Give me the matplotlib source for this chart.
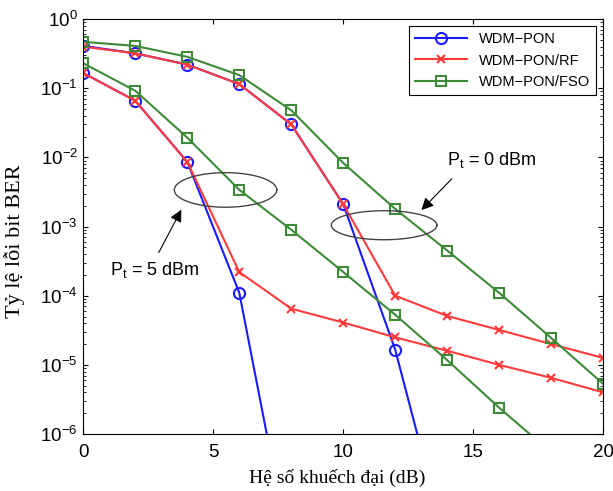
import numpy as np
import matplotlib
matplotlib.use("Agg")
import matplotlib.pyplot as plt

plt.rcParams['font.family'] = ['Liberation Sans', 'DejaVu Sans']
plt.rcParams['mathtext.default'] = 'regular'

# gain (dB)
gain = [0, 2, 4, 6, 8, 10, 12, 14, 16, 18, 20]

# Pt = 0 dBm curves
pon_0 = [0.41, 0.32, 0.22, 0.115, 0.030, 0.0021, 1.65e-5, 2.2e-8]
rf_0 = [0.40, 0.32, 0.22, 0.115, 0.030, 0.0021, 1.0e-4, 5.1e-5, 3.2e-5, 2.0e-5, 1.26e-5]
fso_0 = [0.47, 0.41, 0.285, 0.155, 0.048, 0.0083, 1.8e-3, 4.5e-4, 1.1e-4, 2.45e-5, 5.3e-6]

# Pt = 5 dBm curves
pon_5 = [0.166, 0.066, 0.0086, 1.1e-4, 1.5e-8]
rf_5 = [0.166, 0.066, 0.0086, 2.2e-4, 6.5e-5, 4.1e-5, 2.5e-5, 1.6e-5, 1.0e-5, 6.5e-6, 4.0e-6]
fso_5 = [0.23, 0.092, 0.0193, 0.0034, 9e-4, 2.2e-4, 5.3e-5, 1.17e-5, 2.4e-6, 5.4e-7, 1.3e-7]

blue = '#1a1aff'
red = '#ff3b3b'
green = '#3d8b37'

fig = plt.figure(figsize=(6.13, 4.91), dpi=100)
ax = fig.add_axes([0.136, 0.116, 0.848, 0.845])

ax.semilogy(gain[:len(pon_0)], pon_0, '-o', color=blue, lw=1.5, ms=8, mfc='none', mew=1.5, label='WDM−PON')
ax.semilogy(gain[:len(pon_5)], pon_5, '-o', color=blue, lw=1.5, ms=8, mfc='none', mew=1.5)
ax.semilogy(gain, rf_0, '-x', color=red, lw=1.5, ms=6, mew=1.5, label='WDM−PON/RF')
ax.semilogy(gain, rf_5, '-x', color=red, lw=1.5, ms=6, mew=1.5)
ax.semilogy(gain, fso_0, '-s', color=green, lw=1.5, ms=7, mfc='none', mew=1.5, label='WDM−PON/FSO')
ax.semilogy(gain, fso_5, '-s', color=green, lw=1.5, ms=7, mfc='none', mew=1.5)

# ellipses
t = np.linspace(0, 2 * np.pi, 200)
ax.plot(5.47 + 1.97 * np.cos(t), 10 ** (-2.47 + 0.25 * np.sin(t)), color='#444444', lw=1)
ax.plot(11.57 + 2.03 * np.cos(t), 10 ** (-2.98 + 0.21 * np.sin(t)), color='#444444', lw=1)

ax.annotate('', xy=(12.93, 10 ** -2.79), xytext=(14.25, 10 ** -2.28),
            arrowprops=dict(arrowstyle='-|>', color='k', lw=0.8, mutation_scale=18))
ax.annotate('', xy=(3.82, 10 ** -2.72), xytext=(2.85, 10 ** -3.41),
            arrowprops=dict(arrowstyle='-|>', color='k', lw=0.8, mutation_scale=18))
ax.text(15.7, 10 ** -2.04, 'P$_t$ = 0 dBm', fontsize=13, ha='center', va='center')
ax.text(2.75, 10 ** -3.63, 'P$_t$ = 5 dBm', fontsize=13, ha='center', va='center')

ax.set_xlim(0, 20)
ax.set_ylim(1e-6, 1)
ax.set_xticks([0, 5, 10, 15, 20])
ax.tick_params(which='both', direction='in', top=True, right=True, labelsize=13.5)
ax.tick_params(axis='x', pad=7)
ax.tick_params(axis='y', pad=4)
ax.set_xlabel('Hệ số khuếch đại (dB)', family='Liberation Serif', fontsize=14, va='center')
ax.set_ylabel('Tỷ lệ lỗi bit BER', family='Liberation Serif', fontsize=16, va='center')
ax.xaxis.set_label_coords(0.489, -0.106)
ax.yaxis.set_label_coords(-0.133, 0.465)

leg = ax.legend(loc='upper right', fontsize=10.5, fancybox=False, edgecolor='k', framealpha=1,
                borderaxespad=0.5, handlelength=3.6)
leg.get_frame().set_linewidth(0.8)

fig.savefig('out.png', dpi=100)
